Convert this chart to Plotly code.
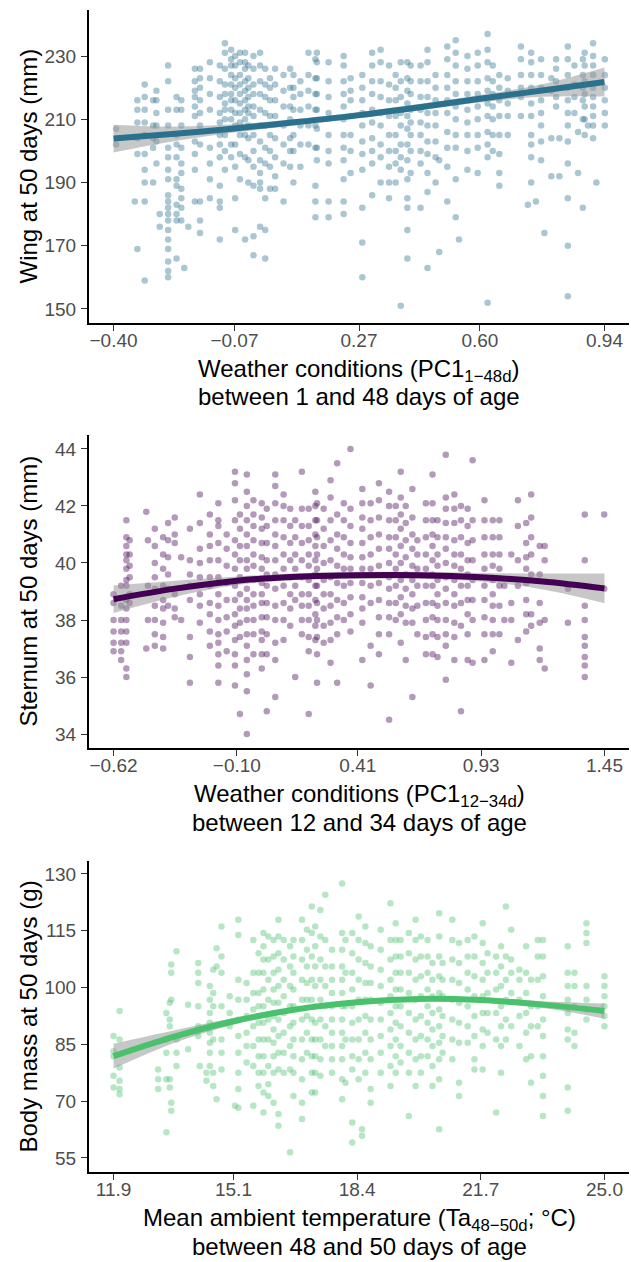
import plotly.graph_objects as go

# ---------------- Panel 1: wing ----------------
wing_col_x = [-0.393, -0.342, -0.335, -0.315, -0.292, -0.283, -0.274, -0.251, -0.228, -0.215, -0.207, -0.196,
              -0.178, -0.164, -0.137, -0.110, -0.096, -0.079, -0.068, -0.055, -0.041, -0.032, -0.018, 0.000,
              0.014, 0.027, 0.041, 0.064, 0.082, 0.091, 0.110, 0.132, 0.151, 0.155, 0.187, 0.228, 0.247, 0.279,
              0.306, 0.329, 0.352, 0.370, 0.384, 0.402, 0.411, 0.438, 0.457, 0.479, 0.489, 0.511, 0.534, 0.543,
              0.566, 0.594, 0.621, 0.635, 0.653, 0.676, 0.712, 0.731, 0.740, 0.753, 0.767, 0.776, 0.795, 0.808,
              0.817, 0.840, 0.858, 0.868, 0.881, 0.886, 0.895, 0.909, 0.918, 0.941]
wing_col_y = [
    [207, 202], [184], [216, 213, 209, 204, 199, 169], [221, 217, 213, 209, 205, 199, 194, 190, 184, 159],
    [216, 208, 204, 201, 190], [219, 216, 212, 208, 203, 196], [180, 176],
    [227, 222, 213, 208, 201, 198, 194, 191, 186, 184, 182, 180, 178, 175, 172, 169, 165, 162, 160],
    [217, 213, 205, 202, 198, 191, 189, 183, 180, 178, 166], [216, 213, 208, 201, 196, 193, 188, 185, 182, 178],
    [163], [176], [226, 222, 219, 217, 214, 211, 203, 199, 194, 184], [226, 223, 220, 216, 212, 208, 202, 184, 178, 174],
    [228, 223, 218, 213, 201, 196, 191, 185], [227, 222, 217, 212, 209, 205, 202, 198, 189, 184, 182, 172],
    [234, 231, 226, 221, 218, 215, 213, 210, 205, 200, 194], [232, 229, 227, 224, 221, 218, 216, 213, 210, 207, 202, 198],
    [230, 227, 223, 220, 216, 212, 208, 202, 195, 185, 175], [231, 228, 224, 221, 218, 215, 212, 209, 205, 199, 191],
    [231, 228, 226, 222, 219, 216, 213, 210, 205, 198, 172], [227, 223, 220, 217, 214, 212, 208, 204, 197, 190],
    [230, 226, 221, 218, 214, 211, 205, 200, 195, 189, 173, 167], [231, 227, 222, 218, 213, 208, 203, 197, 193, 190, 188, 176],
    [226, 221, 217, 212, 208, 201, 196, 185, 175, 166], [223, 220, 216, 211, 205, 200, 195, 188],
    [226, 221, 216, 211, 204, 198, 192, 188], [224, 219, 214, 208, 202, 196, 184], [226, 220, 214, 210, 204, 200, 195],
    [224, 220, 217, 213, 205, 200, 190], [222, 218, 213, 208, 202, 195], [231, 224, 219, 214, 208, 202],
    [229, 223, 218, 213, 208, 201, 189, 184, 179], [231, 228, 223, 218, 213, 207, 201, 197],
    [228, 222, 217, 212, 205, 200, 196, 184, 179], [230, 227, 222, 218, 214, 210, 205, 201, 197, 191, 184, 180],
    [223, 219, 216, 211, 205, 200, 193], [224, 220, 216, 212, 208, 203, 199, 194, 182, 171, 160],
    [231, 227, 222, 218, 213, 209, 204, 200, 196, 186], [232, 228, 222, 217, 212, 208, 202, 198, 190],
    [227, 221, 216, 211, 205, 200, 195, 190, 185], [224, 220, 216, 211, 205, 200, 196, 190],
    [228, 222, 217, 212, 208, 202, 198, 194, 151], [228, 223, 219, 215, 211, 207, 202, 197, 191, 185, 182, 175, 166],
    [227, 222, 218, 213, 209, 205, 200, 193], [227, 222, 217, 213, 209, 205, 200, 196, 182],
    [232, 228, 222, 217, 212, 208, 203, 199, 193, 187, 163], [224, 220, 216, 212, 208, 203, 198, 190], [197, 168],
    [233, 229, 224, 220, 216, 212, 206, 201, 195, 184], [235, 231, 227, 222, 218, 214, 210, 205, 201, 191, 179], [172],
    [230, 226, 222, 218, 213, 209, 205, 200, 194], [231, 227, 222, 218, 214, 210, 205, 201, 193],
    [237, 232, 228, 223, 219, 215, 211, 206, 202, 198, 152], [227, 222, 218, 214, 210, 205, 200],
    [224, 220, 216, 211, 205, 199, 193, 189], [223, 219, 215, 211, 205], [233, 229, 224, 220, 217, 211], [183],
    [231, 228, 224, 220, 215, 211, 205, 202, 198, 190], [184], [229, 224, 220, 216, 212, 208, 203, 197], [174],
    [223, 219, 204, 192], [229, 226, 222, 217, 214], [204, 192],
    [233, 229, 224, 220, 216, 212, 208, 203, 196, 185, 170, 154], [227, 221, 217, 212], [206, 193],
    [182, 229, 224, 220, 216, 210], [231, 227, 222, 218, 214, 210, 205], [208],
    [234, 230, 227, 224, 220, 217, 214, 211, 208, 204], [190], [229, 224, 220, 216, 212, 208]]
wing_fit_x = [-0.40, -0.2325, -0.07, 0.10, 0.27, 0.435, 0.60, 0.77, 0.94]
wing_fit_y = [203.9, 205.4, 207.1, 209.1, 211.3, 213.8, 216.5, 219.1, 221.8]
wing_fit_lo = [199.5, 203.1, 205.8, 208.1, 210.3, 212.8, 215.3, 217.1, 217.2]
wing_fit_hi = [208.3, 207.7, 208.4, 210.1, 212.3, 214.8, 217.7, 221.1, 226.4]
wing_ticks = [-0.40, -0.07, 0.27, 0.60, 0.94]
wing_ticktext = ["\u22120.40", "\u22120.07", "0.27", "0.60", "0.94"]
wing_yticks = [150, 170, 190, 210, 230]

# ---------------- Panel 2: sternum ----------------
st_col_x = [-0.620, -0.588, -0.566, -0.552, -0.482, -0.475, -0.446, -0.411, -0.390, -0.362, -0.335, -0.298, -0.256,
            -0.214, -0.178, -0.143, -0.108, -0.087, -0.058, -0.030, 0.005, 0.026, 0.062, 0.097, 0.125, 0.146, 0.174,
            0.203, 0.231, 0.238, 0.266, 0.295, 0.323, 0.351, 0.379, 0.429, 0.464, 0.499, 0.542, 0.570, 0.591, 0.612,
            0.640, 0.661, 0.697, 0.725, 0.746, 0.781, 0.817, 0.845, 0.873, 0.894, 0.944, 0.979, 1.007, 1.028, 1.057,
            1.085, 1.120, 1.141, 1.177, 1.198, 1.296, 1.367, 1.449]
st_col_y = [
    [38.9, 38.6, 38.0, 37.6, 37.2, 36.9], [39.2, 38.5, 38.0, 37.6, 37.2, 36.9, 36.6],
    [41.5, 40.9, 40.6, 40.3, 40.1, 39.8, 39.4, 39.2, 38.7, 38.4, 38.0, 37.6, 37.2, 36.3, 36.0],
    [40.8, 40.3, 39.9, 39.5, 38.9, 38.6], [41.8, 37.0], [40.8, 39.2, 38.0],
    [41.2, 40.6, 40.0, 39.5, 39.1, 38.5, 38.0, 37.5, 37.1], [40.9, 40.3, 39.8, 39.2, 38.7, 38.4, 37.9, 37.4, 37.0],
    [41.4, 40.8, 40.2, 39.6, 39.1, 38.5], [41.6, 41.0, 40.7, 38.9, 38.4, 38.1], [40.2, 38.0],
    [41.2, 40.1, 39.6, 39.2, 38.7, 37.4, 36.7, 35.8], [42.4, 41.4, 40.5, 40.0, 39.5, 38.9, 38.5, 37.9],
    [41.7, 41.0, 40.6, 40.1, 39.5, 39.2, 38.6, 38.2, 37.6, 37.1],
    [42.1, 41.5, 41.3, 40.7, 40.1, 39.5, 38.9, 38.5, 38.0, 37.5, 37.2, 36.8, 36.4, 35.8],
    [41.0, 40.5, 39.9, 39.3, 38.7, 38.1, 37.6, 36.9],
    [43.2, 42.8, 42.2, 41.5, 40.8, 40.3, 39.8, 39.2, 38.7, 38.2, 37.8, 37.3, 36.8, 36.4, 35.7],
    [34.7, 41.7, 41.2, 40.6, 40.1, 39.5, 38.9, 38.4, 37.9, 37.4],
    [43.1, 42.5, 42.0, 41.5, 41.0, 40.6, 40.1, 39.8, 39.4, 39.1, 38.7, 38.4, 38.0, 37.5, 37.1, 36.6, 36.1, 35.5, 34.0],
    [42.2, 41.7, 41.3, 40.8, 40.3, 39.9, 39.4, 38.9, 38.5, 38.0, 37.5, 36.8],
    [42.1, 41.6, 41.2, 40.7, 40.2, 39.8, 39.3, 38.9, 38.6, 38.1, 37.6, 37.3, 36.8, 36.3],
    [41.9, 41.3, 40.7, 40.1, 39.6, 39.2, 38.6, 38.1, 37.5, 36.8, 34.8],
    [43.1, 42.7, 42.1, 41.5, 41.0, 40.6, 40.1, 39.6, 39.1, 38.5, 38.0, 37.2, 36.6, 35.3],
    [42.4, 42.0, 41.5, 40.9, 40.3, 39.8, 39.2, 38.6, 38.0, 37.3], [41.9, 41.3, 40.7, 40.1, 39.5, 38.9, 38.4, 37.8],
    [36.0, 41.5, 40.9, 40.3, 39.8, 39.2, 38.7], [43.2, 41.9, 41.3, 40.7, 40.1, 39.5, 38.9, 38.5, 38.0, 37.5],
    [41.9, 41.3, 40.8, 40.3, 39.9, 39.4, 38.9, 38.5, 38.0, 37.4, 36.9, 34.7],
    [42.5, 42.0, 41.5, 41.0, 40.6, 40.1, 39.6, 39.2, 38.7, 38.2, 37.8, 37.3],
    [42.1, 41.5, 40.9, 40.3, 39.8, 39.2, 38.6, 38.0, 37.4, 36.8, 35.8],
    [41.9, 41.2, 40.6, 40.0, 39.4, 38.9, 38.4, 37.8, 37.2],
    [42.9, 42.3, 41.5, 40.8, 40.1, 39.5, 38.9, 38.5, 37.9, 37.3, 36.5],
    [43.5, 41.7, 41.0, 40.5, 39.9, 39.3, 38.7, 38.1, 37.5, 35.8], [42.1, 41.5, 40.9, 40.3, 39.8, 39.2, 38.6, 38.0],
    [44.0, 41.9, 41.3, 40.7, 40.2, 39.8, 39.3, 38.8, 38.2, 37.6],
    [42.6, 42.1, 41.6, 41.2, 40.7, 40.2, 39.8, 39.3, 38.8, 38.4, 37.9, 36.6],
    [42.1, 41.5, 40.9, 40.3, 39.8, 39.2, 38.6, 37.1, 35.7],
    [42.8, 42.2, 41.6, 41.0, 40.5, 39.9, 39.3, 38.7, 38.1, 37.5, 36.8],
    [42.5, 42.0, 41.5, 40.9, 40.5, 40.0, 39.5, 39.1, 38.6, 38.1, 37.5, 34.5],
    [42.0, 41.5, 40.9, 40.3, 39.8, 39.2, 38.6, 38.0], [43.2, 42.3, 41.7, 41.2, 40.6, 40.0, 39.4, 38.8, 38.2, 37.2],
    [42.0, 41.4, 40.8, 40.2, 39.6, 39.1, 38.5, 37.9, 36.6], [42.6, 41.6, 41.0, 40.5, 39.9, 39.4, 38.9, 38.4, 37.9, 35.3],
    [40.8, 40.3, 39.8, 39.2, 38.5, 37.5], [42.1, 41.5, 40.9, 40.3, 39.8, 39.2, 38.6, 38.0, 37.4, 36.8],
    [43.1, 42.1, 41.5, 41.0, 40.6, 40.1, 39.6, 39.2, 38.6, 38.1, 37.5, 36.8],
    [41.5, 40.9, 40.3, 39.9, 39.4, 38.9, 38.5, 38.0, 37.4, 36.7],
    [43.8, 42.3, 41.9, 41.4, 40.9, 40.5, 40.0, 39.5, 39.1, 38.6, 38.0, 37.5, 37.1, 35.9],
    [42.4, 41.9, 41.4, 40.8, 40.3, 39.9, 39.4, 38.9, 38.5, 37.9, 37.4, 36.6],
    [34.8, 42.0, 41.5, 40.9, 40.3, 39.8, 39.2, 38.6, 37.8], [41.9, 41.3, 40.7, 40.1, 39.6, 39.2, 38.7, 38.2, 37.5, 36.6],
    [43.6, 41.5, 40.8, 40.1, 39.4, 38.7, 38.0, 36.5], [42.2, 41.5, 40.9, 40.3, 39.8, 39.2, 38.7, 38.1, 37.5, 36.6],
    [41.5, 40.9, 40.3, 39.9, 39.4, 38.9, 38.5, 38.0, 37.5, 36.9], [41.5, 40.9, 40.3, 39.8, 39.2, 38.5, 37.5],
    [39.2, 38.0], [40.3, 38.6, 38.0, 36.5], [42.2, 41.3, 40.1, 39.2, 37.3],
    [41.4, 40.7, 40.2, 39.8, 39.3, 38.7, 38.2, 37.6], [42.4, 41.6, 40.9, 40.3, 39.6, 38.2, 37.8],
    [40.6, 39.6, 38.6, 37.9, 37.0, 36.6], [40.6, 40.1, 38.0, 36.3], [39.1, 37.9],
    [41.7, 40.1, 38.5, 38.0, 37.4, 37.1, 36.7, 36.4, 36.0], [41.7, 39.1]]
st_fit_x = [-0.62, -0.36, -0.10, 0.155, 0.41, 0.67, 0.93, 1.19, 1.45]
st_fit_y = [38.73, 39.10, 39.38, 39.52, 39.57, 39.57, 39.50, 39.35, 39.11]
st_fit_lo = [38.25, 38.82, 39.23, 39.40, 39.45, 39.45, 39.35, 39.07, 38.59]
st_fit_hi = [39.21, 39.38, 39.53, 39.64, 39.69, 39.69, 39.65, 39.63, 39.63]
st_ticks = [-0.62, -0.10, 0.41, 0.93, 1.45]
st_ticktext = ["\u22120.62", "\u22120.10", "0.41", "0.93", "1.45"]
st_yticks = [34, 36, 38, 40, 42, 44]

# ---------------- Panel 3: body mass ----------------
bm_col_x = [11.90, 12.06, 13.09, 13.31, 13.40, 13.44, 13.58, 13.89, 14.16, 14.20, 14.38, 14.47, 14.56, 14.65, 14.78,
            15.00, 15.14, 15.23, 15.45, 15.63, 15.77, 15.90, 16.03, 16.17, 16.30, 16.44, 16.61, 16.70, 16.93, 17.06,
            17.28, 17.19, 17.42, 17.55, 17.73, 18.00, 18.09, 18.27, 18.44, 18.53, 18.62, 18.76, 19.03, 19.29, 19.43,
            19.56, 19.78, 19.96, 20.10, 20.28, 20.41, 20.59, 20.68, 20.94, 21.12, 21.35, 21.53, 21.75, 21.88, 22.11,
            22.24, 22.37, 22.51, 22.73, 22.91, 23.04, 23.22, 23.36, 24.02, 24.20, 24.52, 25.00]
bm_col_y = [
    [87.2, 83.2, 81.9, 76.7, 73.6], [93.8, 86.3, 78.9, 75.4, 73.2, 71.8], [78.4, 75.8, 73.2],
    [93.3, 86.3, 82.8, 75.8, 61.8], [96.0, 91.6, 89.8, 75.8, 73.6], [106.1, 103.9, 96.8, 69.6, 67.5],
    [109.6, 86.3, 82.8, 79.3], [95.5, 83.7], [106.5, 103.9, 101.2, 95.1, 89.8, 87.2], [79.3], [77.5, 75.4],
    [100.4, 96.8, 93.3, 90.7, 88.1, 85.4, 82.8, 79.3], [104.7, 98.6, 95.1, 86.3, 77.5, 74.0], [110.4, 105.6, 70.5],
    [116.1, 108.2, 103.9, 95.1, 86.3, 82.8, 78.4], [97.7, 93.3, 89.8], [68.8],
    [117.9, 113.9, 102.1, 96.8, 91.6, 87.2, 82.8, 77.5, 73.2, 68.3], [101.2, 96.8, 92.5, 88.1, 84.6, 80.2],
    [112.6, 103.9, 98.6, 94.2, 89.8, 84.6, 79.3, 68.8], [109.1, 103.9, 98.6, 95.1, 90.7, 86.3, 81.9, 77.5, 74.0],
    [114.4, 110.9, 107.4, 103.9, 99.5, 95.1, 90.7, 86.3, 81.9, 77.5, 72.3, 67.0],
    [113.5, 107.4, 102.1, 96.8, 91.6, 86.3, 79.3, 74.5, 71.4],
    [112.6, 108.2, 103.9, 99.5, 96.0, 92.5, 88.9, 85.4, 81.9, 77.5, 69.6],
    [117.9, 113.5, 109.1, 104.7, 100.4, 96.0, 91.6, 87.2, 82.8, 78.4, 66.6, 63.5],
    [112.6, 107.4, 102.1, 97.7, 93.3, 88.1, 82.8, 77.5], [110.9, 105.6, 100.4, 95.1, 89.8, 84.6, 78.4, 56.5],
    [112.6, 108.2, 103.9, 99.5, 95.1, 90.7, 86.3, 81.9, 77.5, 71.4],
    [117.9, 112.6, 107.4, 102.1, 96.8, 91.6, 86.3, 81.1, 75.8, 69.6, 65.3],
    [115.3, 110.0, 105.6, 101.2, 96.8, 92.5, 88.1, 82.8],
    [116.1, 110.9, 105.6, 100.4, 95.1, 90.7, 86.3, 81.9, 77.5, 72.3],
    [121.4, 114.4, 108.2, 102.1, 96.8, 91.6, 86.3, 81.9, 77.5, 72.3],
    [120.5, 113.5, 107.4, 102.1, 96.8, 91.6, 86.3, 81.1, 76.7], [124.5, 112.6, 105.6, 100.4, 95.1, 89.8, 84.6],
    [110.0, 105.6, 102.1, 98.6, 95.1, 91.6, 88.1, 84.6, 81.1, 77.5],
    [127.5, 114.4, 110.0, 105.6, 102.1, 98.6, 95.1, 91.6, 88.1, 84.6, 81.1, 75.8, 70.5],
    [112.6, 103.9, 95.1, 86.3, 74.9], [114.4, 109.1, 103.9, 99.5, 95.1, 90.7, 86.3, 81.9, 78.4, 59.1, 64.4],
    [118.8, 112.6, 107.4, 102.1, 96.8, 91.6, 86.3, 81.1, 75.8], [62.6, 60.9],
    [116.1, 111.8, 106.5, 101.2, 96.8, 92.5, 88.1, 82.8, 77.5], [110.9, 105.6, 101.2, 96.8, 91.6, 86.3, 81.1, 73.2, 69.6],
    [115.3, 110.0, 104.7, 100.4, 96.0, 91.6, 87.2, 82.8, 77.5],
    [122.3, 112.6, 107.4, 102.1, 97.7, 93.3, 88.9, 84.6, 79.3, 74.0],
    [117.0, 112.6, 108.2, 103.9, 99.5, 95.1, 90.7, 86.3, 81.9, 77.5], [112.6, 108.2, 103.9, 99.5, 95.1, 89.8, 84.6, 80.2],
    [114.4, 109.1, 103.9, 98.6, 93.3, 88.1, 82.8, 77.5, 66.1], [117.9, 112.6, 107.4, 102.1, 96.8, 91.6, 86.3, 81.1, 74.0],
    [113.5, 108.2, 103.0, 97.7, 92.5, 87.2, 81.9, 77.5], [112.6, 108.2, 103.9, 99.5, 95.1, 90.7, 86.3, 81.9],
    [106.5, 102.1, 97.7, 93.3, 88.9, 84.6, 79.3, 74.0],
    [119.6, 113.5, 108.2, 103.0, 98.6, 94.2, 89.8, 85.4, 81.1, 75.8, 62.6], [106.5, 102.1, 97.7, 92.5, 87.2, 82.8],
    [117.9, 112.6, 107.4, 102.1, 96.8, 91.6, 86.3, 81.1], [111.8, 106.5, 101.2, 96.0, 90.7, 85.4, 74.9, 71.4],
    [112.6, 108.2, 103.9, 99.5, 95.1, 89.8, 85.4], [113.5, 108.2, 103.0, 97.7, 92.5, 87.2, 81.1, 78.4],
    [117.0, 111.8, 106.5, 102.1, 97.7, 93.3, 88.9, 84.6, 78.4], [109.1, 103.9, 98.6, 93.3, 88.1],
    [108.2, 103.9, 99.5, 93.3, 86.3, 67.0], [110.9, 105.6, 100.4, 95.1, 89.8, 84.6, 77.5],
    [121.4, 108.2, 102.1, 96.8, 91.6, 86.3], [115.3, 107.4, 103.9, 98.6, 89.8], [104.7, 102.1, 96.8, 92.5, 84.6],
    [110.9, 103.9, 98.6, 93.3, 88.1, 81.1], [102.1, 95.1, 89.8, 81.9, 74.9], [112.6, 108.2, 102.1, 95.1, 89.8],
    [112.6, 108.2, 103.0, 97.7, 91.6, 87.2, 81.9, 76.7, 71.4, 66.1],
    [110.9, 103.9, 100.4, 96.8, 93.3, 88.9, 86.3, 73.6, 67.5], [103.9, 100.4, 95.1, 88.1, 84.6],
    [117.0, 114.4, 111.8, 100.4, 96.8, 94.2, 91.6], [103.0, 100.4, 97.7, 95.1, 92.5, 89.8]]
bm_fit_x = [11.9, 13.5, 15.1, 16.75, 18.4, 20.05, 21.7, 23.35, 25.0]
bm_fit_y = [81.9, 87.0, 91.1, 94.2, 96.1, 97.0, 96.7, 95.5, 93.8]
bm_fit_lo = [78.6, 85.3, 90.2, 93.6, 95.6, 96.5, 96.1, 94.6, 91.8]
bm_fit_hi = [85.2, 88.7, 92.0, 94.8, 96.6, 97.5, 97.3, 96.4, 95.8]
bm_ticks = [11.9, 15.1, 18.4, 21.7, 25.0]
bm_ticktext = ["11.9", "15.1", "18.4", "21.7", "25.0"]
bm_yticks = [55, 70, 85, 100, 115, 130]

FONT = "Liberation Sans, Arial, Helvetica, sans-serif"
W, H = 631, 1262

panels = [
    dict(cx=wing_col_x, cy=wing_col_y, fx=wing_fit_x, fy=wing_fit_y, flo=wing_fit_lo, fhi=wing_fit_hi,
         xt=wing_ticks, xtt=wing_ticktext, yt=wing_yticks, xr=[-0.467, 1.007], yr=[145.57, 244.55],
         col="42,113,142", top=10, bot=323,
         ytitle="Wing at 50 days (mm)",
         xt1="Weather conditions (PC1<sub>1\u221248d</sub>)", xt2="between 1 and 48 days of age"),
    dict(cx=st_col_x, cy=st_col_y, fx=st_fit_x, fy=st_fit_y, flo=st_fit_lo, fhi=st_fit_hi,
         xt=st_ticks, xtt=st_ticktext, yt=st_yticks, xr=[-0.7235, 1.5535], yr=[33.51, 44.49],
         col="68,1,84", top=435, bot=748,
         ytitle="Sternum at 50 days (mm)",
         xt1="Weather conditions (PC1<sub>12\u221234d</sub>)", xt2="between 12 and 34 days of age"),
    dict(cx=bm_col_x, cy=bm_col_y, fx=bm_fit_x, fy=bm_fit_y, flo=bm_fit_lo, fhi=bm_fit_hi,
         xt=bm_ticks, xtt=bm_ticktext, yt=bm_yticks, xr=[11.245, 25.655], yr=[51.30, 133.43],
         col="74,193,109", top=861, bot=1172,
         ytitle="Body mass at 50 days (g)",
         xt1="Mean ambient temperature (Ta<sub>48\u221250d</sub>; \u00b0C)", xt2="between 48 and 50 days of age"),
]

fig = go.Figure()
annotations = []
left, right = 89, 629
for i, p in enumerate(panels, start=1):
    xs = [x for x, ys in zip(p["cx"], p["cy"]) for _ in ys]
    ys = [y for col in p["cy"] for y in col]
    xa = "x" if i == 1 else f"x{i}"
    ya = "y" if i == 1 else f"y{i}"
    fig.add_trace(go.Scatter(x=xs, y=ys, mode="markers", xaxis=xa, yaxis=ya, showlegend=False,
                             marker=dict(size=6.5, color=f"rgba({p['col']},0.4)", line=dict(width=0)),
                             hoverinfo="skip"))
    fig.add_trace(go.Scatter(x=p["fx"], y=p["fhi"], mode="lines", xaxis=xa, yaxis=ya, showlegend=False,
                             line=dict(width=0, shape="spline"), hoverinfo="skip"))
    fig.add_trace(go.Scatter(x=p["fx"], y=p["flo"], mode="lines", xaxis=xa, yaxis=ya, showlegend=False,
                             line=dict(width=0, shape="spline"), fill="tonexty",
                             fillcolor="rgba(153,153,153,0.55)", hoverinfo="skip"))
    fig.add_trace(go.Scatter(x=p["fx"], y=p["fy"], mode="lines", xaxis=xa, yaxis=ya, showlegend=False,
                             line=dict(width=6, color=f"rgb({p['col']})", shape="spline"), hoverinfo="skip"))
    common = dict(showgrid=False, zeroline=False, showline=True, linecolor="black", linewidth=2,
                  ticks="outside", ticklen=6, tickwidth=1.2, tickcolor="#333333",
                  tickfont=dict(family=FONT, size=19, color="#4D4D4D"))
    fig.layout[f"xaxis{'' if i == 1 else i}"] = dict(
        common, domain=[left / W, right / W], range=p["xr"], anchor=ya,
        tickvals=p["xt"], ticktext=p["xtt"], ticklabelstandoff=-7)
    fig.layout[f"yaxis{'' if i == 1 else i}"] = dict(
        common, domain=[1 - p["bot"] / H, 1 - p["top"] / H], range=p["yr"], anchor=xa,
        tickvals=p["yt"], ticklabelstandoff=1)
    mid = (p["top"] + p["bot"]) / 2
    annotations.append(dict(text=p["ytitle"], textangle=-90, x=28 / W, y=1 - mid / H, xref="paper", yref="paper",
                            xanchor="center", yanchor="middle", showarrow=False,
                            font=dict(family=FONT, size=24, color="black")))
    annotations.append(dict(text=p["xt1"], x=359 / W, y=1 - (p["bot"] + 47) / H, xref="paper", yref="paper",
                            xanchor="center", yanchor="middle", showarrow=False,
                            font=dict(family=FONT, size=24, color="black")))
    annotations.append(dict(text=p["xt2"], x=359 / W, y=1 - (p["bot"] + 74) / H, xref="paper", yref="paper",
                            xanchor="center", yanchor="middle", showarrow=False,
                            font=dict(family=FONT, size=24, color="black")))

fig.update_layout(width=W, height=H, margin=dict(l=0, r=0, t=0, b=0), plot_bgcolor="white",
                  paper_bgcolor="white", showlegend=False, annotations=annotations)
fig.write_html("out.html")
